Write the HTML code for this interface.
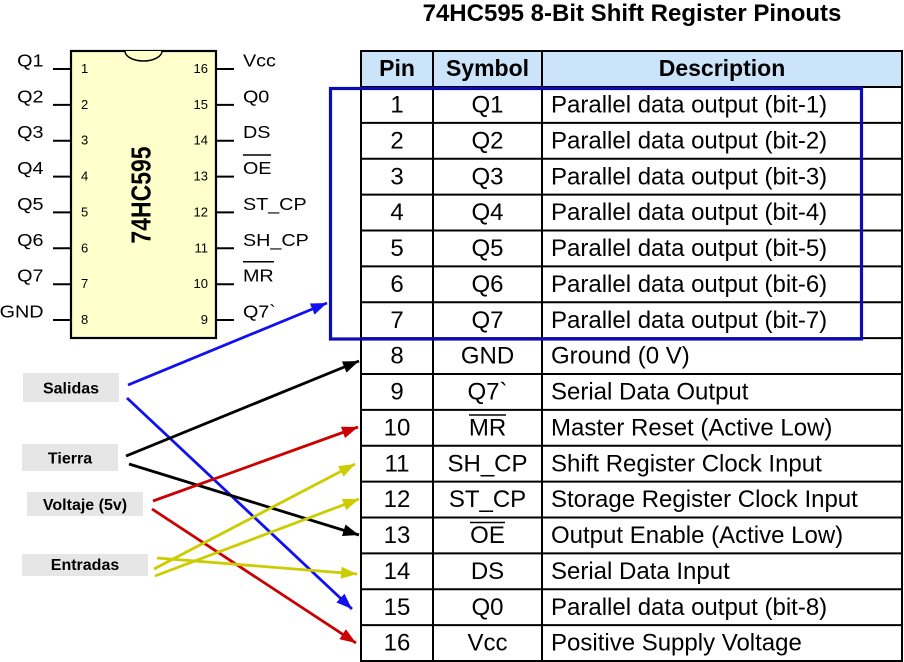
<!DOCTYPE html>
<html>
<head>
<meta charset="utf-8">
<style>
  html, body { margin: 0; padding: 0; background: #fff; }
  body { width: 904px; height: 662px; overflow: hidden; }
  svg { display: block; font-family: "Liberation Sans", Arial, sans-serif; }
</style>
</head>
<body>
<svg width="904" height="662" viewBox="0 0 904 662" xmlns="http://www.w3.org/2000/svg">
  <defs>
    <marker id="mBlue" markerWidth="16" markerHeight="12" refX="16" refY="6" orient="auto" markerUnits="userSpaceOnUse"><path d="M0,0 L16,6 L0,12 z" fill="#1010f0"/></marker>
    <marker id="mBlack" markerWidth="16" markerHeight="12" refX="16" refY="6" orient="auto" markerUnits="userSpaceOnUse"><path d="M0,0 L16,6 L0,12 z" fill="#000"/></marker>
    <marker id="mRed" markerWidth="16" markerHeight="12" refX="16" refY="6" orient="auto" markerUnits="userSpaceOnUse"><path d="M0,0 L16,6 L0,12 z" fill="#cc0000"/></marker>
    <marker id="mYel" markerWidth="16" markerHeight="12" refX="16" refY="6" orient="auto" markerUnits="userSpaceOnUse"><path d="M0,0 L16,6 L0,12 z" fill="#cccc00"/></marker>
  </defs>

  <rect x="0" y="0" width="904" height="662" fill="#fff"/>

  <!-- Title -->
  <text x="632" y="21" text-anchor="middle" font-size="24" font-weight="bold" fill="#000">74HC595 8-Bit Shift Register Pinouts</text>

  <!-- ===== Chip ===== -->
  <g stroke="#000" stroke-width="2">
    <line x1="53" y1="69" x2="71" y2="69"/>
    <line x1="53" y1="104.9" x2="71" y2="104.9"/>
    <line x1="53" y1="140.7" x2="71" y2="140.7"/>
    <line x1="53" y1="176.6" x2="71" y2="176.6"/>
    <line x1="53" y1="212.4" x2="71" y2="212.4"/>
    <line x1="53" y1="248.3" x2="71" y2="248.3"/>
    <line x1="53" y1="284.2" x2="71" y2="284.2"/>
    <line x1="53" y1="320" x2="71" y2="320"/>
    <line x1="216" y1="69" x2="234" y2="69"/>
    <line x1="216" y1="104.9" x2="234" y2="104.9"/>
    <line x1="216" y1="140.7" x2="234" y2="140.7"/>
    <line x1="216" y1="176.6" x2="234" y2="176.6"/>
    <line x1="216" y1="212.4" x2="234" y2="212.4"/>
    <line x1="216" y1="248.3" x2="234" y2="248.3"/>
    <line x1="216" y1="284.2" x2="234" y2="284.2"/>
    <line x1="216" y1="320" x2="234" y2="320"/>
  </g>
  <rect x="71" y="51" width="145" height="287" fill="#ffffcc" stroke="#000" stroke-width="2.2"/>
  <path d="M125,51 A18.5,10 0 0 0 162,51" fill="#ffffcc" stroke="#000" stroke-width="1.5"/>

  <text transform="translate(142,195) scale(1.2,1) rotate(-90)" x="0" y="7" text-anchor="middle" font-size="23" font-weight="bold" fill="#000">74HC595</text>

  <!-- pin numbers -->
  <g font-size="13" fill="#000">
    <text x="81" y="73">1</text>
    <text x="81" y="108.9">2</text>
    <text x="81" y="144.7">3</text>
    <text x="81" y="180.6">4</text>
    <text x="81" y="216.4">5</text>
    <text x="81" y="252.3">6</text>
    <text x="81" y="288.2">7</text>
    <text x="81" y="324">8</text>
  </g>
  <g font-size="13" fill="#000" text-anchor="end">
    <text x="208" y="73">16</text>
    <text x="208" y="108.9">15</text>
    <text x="208" y="144.7">14</text>
    <text x="208" y="180.6">13</text>
    <text x="208" y="216.4">12</text>
    <text x="208" y="252.3">11</text>
    <text x="208" y="288.2">10</text>
    <text x="208" y="324">9</text>
  </g>

  <!-- pin labels (horizontally stretched) -->
  <g transform="scale(1.13,1)" font-size="17.5" fill="#000">
    <g text-anchor="end">
      <text x="38.5" y="66.5">Q1</text>
      <text x="38.5" y="102.4">Q2</text>
      <text x="38.5" y="138.2">Q3</text>
      <text x="38.5" y="174.1">Q4</text>
      <text x="38.5" y="209.9">Q5</text>
      <text x="38.5" y="245.8">Q6</text>
      <text x="38.5" y="281.7">Q7</text>
      <text x="38.5" y="317.5">GND</text>
    </g>
    <text x="215" y="66.5">Vcc</text>
    <text x="215" y="102.4">Q0</text>
    <text x="215" y="138.2">DS</text>
    <text x="215" y="174.1">OE</text>
    <text x="215" y="209.9">ST_CP</text>
    <text x="215" y="245.8">SH_CP</text>
    <text x="215" y="281.7">MR</text>
    <text x="215" y="317.5">Q7`</text>
  </g>
  <line x1="243" y1="155" x2="271" y2="155" stroke="#000" stroke-width="1.5"/>
  <line x1="243" y1="261.7" x2="274" y2="261.7" stroke="#000" stroke-width="1.5"/>

  <!-- ===== Table ===== -->
  <rect x="361" y="51" width="541" height="36" fill="#cce4fa"/>
  <g stroke="#000" stroke-width="2">
    <rect x="361" y="51" width="541" height="610" fill="none"/>
    <line x1="433" y1="51" x2="433" y2="661"/>
    <line x1="542" y1="51" x2="542" y2="661"/>
    <line x1="361" y1="87" x2="902" y2="87"/>
    <line x1="361" y1="122.9" x2="902" y2="122.9"/>
    <line x1="361" y1="158.75" x2="902" y2="158.75"/>
    <line x1="361" y1="194.6" x2="902" y2="194.6"/>
    <line x1="361" y1="230.5" x2="902" y2="230.5"/>
    <line x1="361" y1="266.4" x2="902" y2="266.4"/>
    <line x1="361" y1="302.25" x2="902" y2="302.25"/>
    <line x1="361" y1="338.1" x2="902" y2="338.1"/>
    <line x1="361" y1="374" x2="902" y2="374"/>
    <line x1="361" y1="409.9" x2="902" y2="409.9"/>
    <line x1="361" y1="445.75" x2="902" y2="445.75"/>
    <line x1="361" y1="481.6" x2="902" y2="481.6"/>
    <line x1="361" y1="517.5" x2="902" y2="517.5"/>
    <line x1="361" y1="553.4" x2="902" y2="553.4"/>
    <line x1="361" y1="589.25" x2="902" y2="589.25"/>
    <line x1="361" y1="625.1" x2="902" y2="625.1"/>
  </g>

  <!-- header -->
  <g font-size="23" font-weight="bold" fill="#000" text-anchor="middle">
    <text x="397" y="76">Pin</text>
    <text x="487.5" y="76">Symbol</text>
    <text x="722" y="76">Description</text>
  </g>

  <!-- pin column -->
  <g font-size="24" fill="#000" text-anchor="middle">
    <text x="397" y="112.5">1</text>
    <text x="397" y="148.4">2</text>
    <text x="397" y="184.25">3</text>
    <text x="397" y="220.1">4</text>
    <text x="397" y="256">5</text>
    <text x="397" y="291.9">6</text>
    <text x="397" y="327.75">7</text>
    <text x="397" y="363.6">8</text>
    <text x="397" y="399.5">9</text>
    <text x="397" y="435.4">10</text>
    <text x="397" y="471.25">11</text>
    <text x="397" y="507.1">12</text>
    <text x="397" y="543">13</text>
    <text x="397" y="578.9">14</text>
    <text x="397" y="614.75">15</text>
    <text x="397" y="650.6">16</text>
  </g>
  <!-- symbol column -->
  <g font-size="24" fill="#000" text-anchor="middle">
    <text x="487.5" y="112.5">Q1</text>
    <text x="487.5" y="148.4">Q2</text>
    <text x="487.5" y="184.25">Q3</text>
    <text x="487.5" y="220.1">Q4</text>
    <text x="487.5" y="256">Q5</text>
    <text x="487.5" y="291.9">Q6</text>
    <text x="487.5" y="327.75">Q7</text>
    <text x="487.5" y="363.6">GND</text>
    <text x="487.5" y="399.5">Q7`</text>
    <text x="487.5" y="435.4">MR</text>
    <text x="487.5" y="471.25">SH_CP</text>
    <text x="487.5" y="507.1">ST_CP</text>
    <text x="487.5" y="543">OE</text>
    <text x="487.5" y="578.9">DS</text>
    <text x="487.5" y="614.75">Q0</text>
    <text x="487.5" y="650.6">Vcc</text>
  </g>
  <line x1="469" y1="415" x2="506" y2="415" stroke="#000" stroke-width="1.5"/>
  <line x1="470" y1="522.5" x2="505" y2="522.5" stroke="#000" stroke-width="1.5"/>

  <!-- description column -->
  <g font-size="24" fill="#000">
    <text x="551" y="112.5">Parallel data output (bit-1)</text>
    <text x="551" y="148.4">Parallel data output (bit-2)</text>
    <text x="551" y="184.25">Parallel data output (bit-3)</text>
    <text x="551" y="220.1">Parallel data output (bit-4)</text>
    <text x="551" y="256">Parallel data output (bit-5)</text>
    <text x="551" y="291.9">Parallel data output (bit-6)</text>
    <text x="551" y="327.75">Parallel data output (bit-7)</text>
    <text x="551" y="363.6">Ground (0 V)</text>
    <text x="551" y="399.5">Serial Data Output</text>
    <text x="551" y="435.4">Master Reset (Active Low)</text>
    <text x="551" y="471.25">Shift Register Clock Input</text>
    <text x="551" y="507.1">Storage Register Clock Input</text>
    <text x="551" y="543">Output Enable (Active Low)</text>
    <text x="551" y="578.9">Serial Data Input</text>
    <text x="551" y="614.75">Parallel data output (bit-8)</text>
    <text x="551" y="650.6">Positive Supply Voltage</text>
  </g>

  <!-- blue highlight box -->
  <rect x="330.5" y="88.5" width="531" height="250.5" fill="none" stroke="#0c0cb4" stroke-width="3.2"/>

  <!-- ===== Category labels ===== -->
  <rect x="23" y="373" width="96" height="29" fill="#e6e6e6"/>
  <rect x="22" y="444" width="96" height="27" fill="#e6e6e6"/>
  <rect x="27" y="492" width="116" height="24" fill="#e6e6e6"/>
  <rect x="22" y="554" width="126" height="22" fill="#e6e6e6"/>
  <g font-size="16" font-weight="bold" fill="#000" text-anchor="middle">
    <text x="71" y="393.5">Salidas</text>
    <text x="70" y="463.5">Tierra</text>
    <text x="85" y="510">Voltaje (5v)</text>
    <text x="85" y="570">Entradas</text>
  </g>

  <!-- ===== Arrows ===== -->
  <g stroke-width="2.8" fill="none">
    <line x1="128" y1="385" x2="327" y2="303" stroke="#1010f0" marker-end="url(#mBlue)"/>
    <line x1="127" y1="398" x2="352" y2="609" stroke="#1010f0" marker-end="url(#mBlue)"/>
    <line x1="126" y1="456" x2="359" y2="361" stroke="#000" marker-end="url(#mBlack)"/>
    <line x1="129" y1="464" x2="359" y2="535" stroke="#000" marker-end="url(#mBlack)"/>
    <line x1="153" y1="501" x2="358" y2="427" stroke="#cc0000" marker-end="url(#mRed)"/>
    <line x1="152" y1="509" x2="356" y2="643" stroke="#cc0000" marker-end="url(#mRed)"/>
    <line x1="154" y1="569" x2="355" y2="464" stroke="#cccc00" marker-end="url(#mYel)"/>
    <line x1="155" y1="576" x2="359" y2="499" stroke="#cccc00" marker-end="url(#mYel)"/>
    <line x1="157" y1="558" x2="357" y2="574" stroke="#cccc00" marker-end="url(#mYel)"/>
  </g>
</svg>
</body>
</html>
